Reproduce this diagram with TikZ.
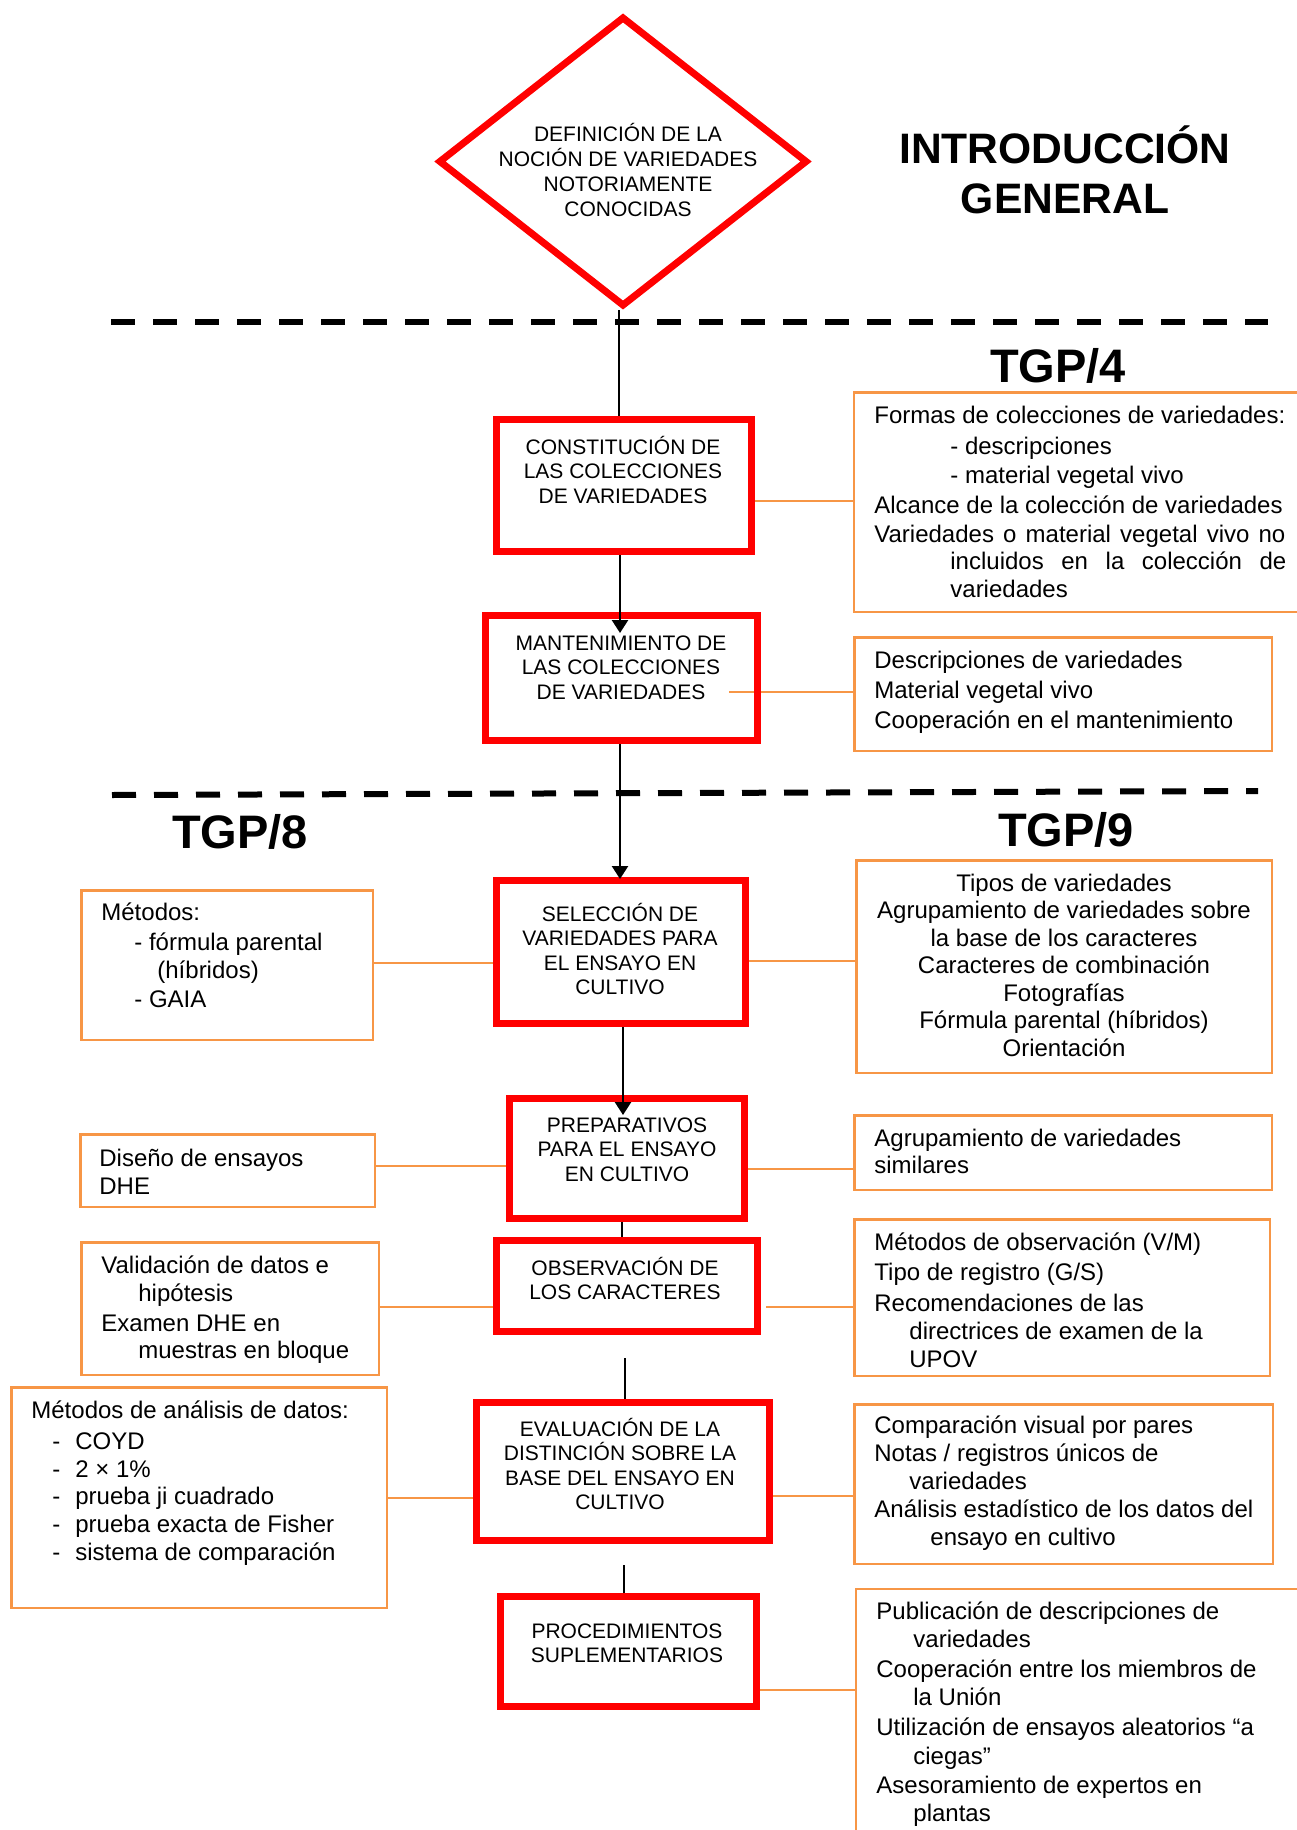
\documentclass[tikz,border=0pt]{standalone}
\usepackage{fontspec}
\setmainfont{Liberation Sans}
\usetikzlibrary{shapes.geometric,arrows.meta}
\pgfdeclarelayer{bglayer}
\pgfsetlayers{bglayer,main}
\definecolor{boxred}{RGB}{255,0,0}
\definecolor{boxorange}{RGB}{247,150,70}
\newcommand\ostrut{\rule{0pt}{12pt}}
\newcommand\rstrut{\rule{0pt}{11pt}}
\newcommand\tstrut{\rule{0pt}{22pt}}
\begin{document}
\begin{tikzpicture}[x=0.5pt,y=-0.5pt,
  rbox/.style={draw=boxred,line width=3.5pt,inner sep=0pt},
  obox/.style={draw=boxorange,line width=1.25pt,inner sep=0pt},
  rtext/.style={font=\fontsize{10.5pt}{12.25pt}\selectfont,align=center,inner sep=0pt,anchor=north},
  otext/.style={font=\fontsize{12pt}{14pt}\selectfont,align=left,inner sep=0pt,anchor=north west},
  ctext/.style={font=\fontsize{12pt}{13.75pt}\selectfont,align=center,inner sep=0pt,anchor=north},
  headtext/.style={font=\fontsize{23.5pt}{28pt}\selectfont\bfseries,inner sep=0pt,anchor=base},
  flowline/.style={draw=black,line width=1.25pt},
  flowarrow/.style={flowline,-{Triangle[width=8pt,length=6.5pt]}},
  olink/.style={draw=boxorange,line width=1pt},
  sepline/.style={draw=black,line width=3pt,dash pattern=on 12pt off 9pt}
]
\useasboundingbox (0,0) rectangle (1296,1830);

% ---------- top: diamond and titles
\node[diamond,draw=boxred,line width=3.5pt,inner sep=0pt,minimum width=184.5pt,minimum height=145pt] (dia) at (623,161.5) {};
\node[rtext,font=\fontsize{10.5pt}{12.5pt}\selectfont] (tdia) at (628,119.5) {\rstrut DEFINICIÓN DE LA\\NOCIÓN DE VARIEDADES\\NOTORIAMENTE\\CONOCIDAS};
\node[headtext,font=\fontsize{21.3pt}{25pt}\selectfont\bfseries,align=center,anchor=north] (tintro) at (1065,119) {\tstrut INTRODUCCIÓN\\GENERAL};

\node[headtext] (t4) at (1058,382) {TGP/4};
\node[headtext] (t8) at (240,848) {TGP/8};
\node[headtext] (t9) at (1066,846) {TGP/9};

% ---------- dashed separators
\coordinate (s1a) at (111,322);
\coordinate (s1b) at (1268,322);
\coordinate (s2a) at (112,795);
\coordinate (s2b) at (1258,791);
\draw[sepline] (s1a) -- (s1b);
\draw[sepline] (s2a) -- (s2b);

% ---------- red boxes
\node[rbox,minimum width=127.5pt,minimum height=66pt] (cons) at (624,485.5) {};
\node[rbox,minimum width=136pt,minimum height=62.5pt] (mant) at (621.5,678) {};
\node[rbox,minimum width=124.5pt,minimum height=71.5pt] (sel) at (621,952) {};
\node[rbox,minimum width=117.5pt,minimum height=60pt] (prep) at (627,1158.5) {};
\node[rbox,minimum width=130.5pt,minimum height=45.5pt] (obs) at (627,1286) {};
\node[rbox,minimum width=146.5pt,minimum height=69pt] (eval) at (622.5,1471.5) {};
\node[rbox,minimum width=128pt,minimum height=55pt] (proc) at (628.5,1651.5) {};

\node[rtext] (tcons) at (623,432) {\rstrut CONSTITUCIÓN DE\\LAS COLECCIONES\\DE VARIEDADES};
\node[rtext] (tmant) at (621,628) {\rstrut MANTENIMIENTO DE\\LAS COLECCIONES\\DE VARIEDADES};
\node[rtext] (tsel) at (620,899) {\rstrut SELECCIÓN DE\\VARIEDADES PARA\\EL ENSAYO EN\\CULTIVO};
\node[rtext] (tprep) at (627,1110) {\rstrut PREPARATIVOS\\PARA EL ENSAYO\\EN CULTIVO};
\node[rtext] (tobs) at (625,1253) {\rstrut OBSERVACIÓN DE\\LOS CARACTERES};
\node[rtext] (teval) at (620,1414) {\rstrut EVALUACIÓN DE LA\\DISTINCIÓN SOBRE LA\\BASE DEL ENSAYO EN\\CULTIVO};
\node[rtext] (tproc) at (627,1616) {\rstrut PROCEDIMIENTOS\\SUPLEMENTARIOS};

% ---------- orange boxes
\node[obox,minimum width=232.9pt,minimum height=109.75pt] (A) at (1087.1,502) {};
\node[obox,minimum width=208.75pt,minimum height=56.75pt] (B) at (1063,694) {};
\node[obox,minimum width=145.75pt,minimum height=74.75pt] (C) at (227,965) {};
\node[obox,minimum width=207.75pt,minimum height=106.25pt] (D) at (1064,966.5) {};
\node[obox,minimum width=147.25pt,minimum height=36.25pt] (E) at (227.5,1170.5) {};
\node[obox,minimum width=208.75pt,minimum height=37.25pt] (F) at (1063,1152.5) {};
\node[obox,minimum width=148.75pt,minimum height=66.25pt] (G) at (230,1308.5) {};
\node[obox,minimum width=207.75pt,minimum height=78.25pt] (H) at (1062,1297.5) {};
\node[obox,minimum width=187.75pt,minimum height=110.25pt] (I) at (199,1497.5) {};
\node[obox,minimum width=209.25pt,minimum height=79.75pt] (J) at (1063.5,1484) {};
\node[obox,minimum width=231.9pt,minimum height=135.4pt] (K) at (1088.1,1724.6) {};

\node[otext] (tA) at (874,399) {\ostrut Formas de colecciones de variedades:\\[1.5pt]
\hspace*{38pt}- descripciones\\[0.5pt]
\hspace*{38pt}- material vegetal vivo\\[1pt]
Alcance de la colección de variedades\\[0.5pt]
\makebox[205.5pt][s]{Variedades o material vegetal vivo no}\\[-0.5pt]
\hspace*{38pt}\makebox[168pt][s]{incluidos en la colección de}\\
\hspace*{38pt}variedades};

\node[otext] (tB) at (874,644) {\ostrut Descripciones de variedades\\[1pt]
Material vegetal vivo\\[1pt]
Cooperación en el mantenimiento};

\node[otext] (tC) at (101,896) {\ostrut Métodos:\\[1pt]
\hspace*{16.5pt}- fórmula parental\\
\hspace*{28pt}(híbridos)\\[0.5pt]
\hspace*{16.5pt}- GAIA};

\node[ctext] (tD) at (1064,867) {\ostrut Tipos de variedades\\
Agrupamiento de variedades sobre\\
la base de los caracteres\\
Caracteres de combinación\\
Fotografías\\
Fórmula parental (híbridos)\\
Orientación};

\node[otext] (tE) at (99,1142) {\ostrut Diseño de ensayos\\
DHE};

\node[otext] (tF) at (874,1122) {\ostrut Agrupamiento de variedades\\[-0.5pt]
similares};

\node[otext] (tG) at (101,1249) {\ostrut Validación de datos e\\
\hspace*{18.5pt}hipótesis\\[1pt]
Examen DHE en\\[-0.5pt]
\hspace*{18.5pt}muestras en bloque};

\node[otext] (tH) at (874,1226) {\ostrut Métodos de observación (V/M)\\[1pt]
Tipo de registro (G/S)\\[1.5pt]
Recomendaciones de las\\
\hspace*{17.5pt}directrices de examen de la\\
\hspace*{17.5pt}UPOV};

\node[otext] (tI) at (31,1394) {\ostrut Métodos de análisis de datos:\\[1.5pt]
\hspace*{10.5pt}\makebox[11.5pt][l]{-}COYD\\
\hspace*{10.5pt}\makebox[11.5pt][l]{-}2 × 1\%\\[-0.5pt]
\hspace*{10.5pt}\makebox[11.5pt][l]{-}prueba ji cuadrado\\
\hspace*{10.5pt}\makebox[11.5pt][l]{-}prueba exacta de Fisher\\
\hspace*{10.5pt}\makebox[11.5pt][l]{-}sistema de comparación};

\node[otext] (tJ) at (874,1409) {\ostrut Comparación visual por pares\\
Notas / registros únicos de\\
\hspace*{17.5pt}variedades\\
Análisis estadístico de los datos del\\
\hspace*{28pt}ensayo en cultivo};

\node[otext] (tK) at (876,1595) {\ostrut Publicación de descripciones de\\
\hspace*{18.5pt}variedades\\[1pt]
Cooperación entre los miembros de\\
\hspace*{18.5pt}la Unión\\[1pt]
Utilización de ensayos aleatorios “a\\[0.5pt]
\hspace*{18.5pt}ciegas”\\[0.5pt]
Asesoramiento de expertos en\\
\hspace*{18.5pt}plantas};

% ---------- orange links (behind the boxes)
\coordinate (y1) at (0,501);
\coordinate (m1) at (729,692);
\coordinate (y3) at (0,963);
\coordinate (y4) at (0,961);
\coordinate (y5) at (0,1166);
\coordinate (y6) at (0,1169);
\coordinate (y7) at (0,1307);
\coordinate (m8) at (766,1307);
\coordinate (y9) at (0,1498);
\coordinate (y10) at (0,1496);
\coordinate (y11) at (0,1690);
\begin{pgfonlayer}{bglayer}
\draw[olink] (cons.east |- y1) -- (A.west |- y1);
\draw[olink] (m1) -- (m1 -| B.west);
\draw[olink] (C.east |- y3) -- (sel.west |- y3);
\draw[olink] (sel.east |- y4) -- (D.west |- y4);
\draw[olink] (E.east |- y5) -- (prep.west |- y5);
\draw[olink] (prep.east |- y6) -- (F.west |- y6);
\draw[olink] (G.east |- y7) -- (obs.west |- y7);
\draw[olink] (m8) -- (m8 -| H.west);
\draw[olink] (I.east |- y9) -- (eval.west |- y9);
\draw[olink] (eval.east |- y10) -- (J.west |- y10);
\draw[olink] (proc.east |- y11) -- (K.west |- y11);
\end{pgfonlayer}

% ---------- black flow lines
\coordinate (xl0) at (619,0);
\coordinate (xa1) at (620,0);
\coordinate (xa3) at (623,0);
\coordinate (xl4) at (622,0);
\coordinate (g1) at (625,1358);
\coordinate (g2) at (624,1565);
\draw[flowline] (xl0 |- dia.south) -- (xl0 |- cons.north);
\draw[flowarrow,shorten >=-10.5pt] (xa1 |- cons.south) -- (xa1 |- mant.north);
\draw[flowarrow,shorten >=-1pt] (xa1 |- mant.south) -- (xa1 |- sel.north);
\draw[flowarrow,shorten >=-10pt] (xa3 |- sel.south) -- (xa3 |- prep.north);
\draw[flowline] (xl4 |- prep.south) -- (xl4 |- obs.north);
\draw[flowline] (g1) -- (g1 |- eval.north);
\draw[flowline] (g2) -- (g2 |- proc.north);
\end{tikzpicture}
\end{document}
